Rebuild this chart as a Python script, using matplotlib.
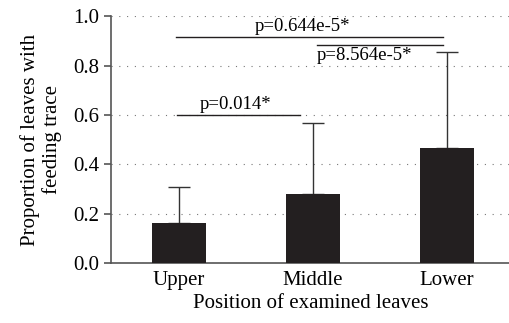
import numpy as np
import matplotlib.pyplot as plt

positions = ["Upper", "Middle", "Lower"]
proportion = [0.162, 0.279, 0.467]
err_upper = [0.147, 0.289, 0.386]

# significance brackets: (from, to, height, label, label x, label above?)
comparisons = [
    (-0.015, 0.90, 0.600, "p=0.014*", 0.157, True),
    (-0.02, 1.97, 0.916, "p=0.644e-5*", 0.567, True),
    (1.03, 1.97, 0.885, "p=8.564e-5*", 1.03, False),
]

plt.rcParams["font.family"] = ["Liberation Serif", "DejaVu Serif"]

fig = plt.figure(figsize=(5.1, 3.23), dpi=100)
ax = fig.add_axes([0.2176, 0.186, 0.7824, 0.764])

x = np.arange(len(positions))
ax.bar(x, proportion, width=0.40, color="#231f20", zorder=3)
ax.errorbar(x, proportion, yerr=[np.zeros(3), err_upper], fmt="none",
            ecolor="#333333", elinewidth=1.0, capsize=8, capthick=1.0, zorder=2)

for x0, x1, h, label, tx, above in comparisons:
    ax.plot([x0, x1], [h, h], color="#231f20", lw=1.0, zorder=4)
    if above:
        ax.text(tx, h + 0.006, label, ha="left", va="bottom", fontsize=13.5)
    else:
        ax.text(tx, h - 0.012, label, ha="left", va="top", fontsize=13.5)

ax.set_xlim(-0.507, 2.47)
ax.set_ylim(0, 1.0)
ax.set_yticks(np.arange(0, 1.01, 0.2))
ax.set_yticklabels([f"{v:.1f}" for v in np.arange(0, 1.01, 0.2)])
ax.set_xticks(x)
ax.set_xticklabels(positions)
ax.tick_params(axis="x", length=0, labelsize=15, pad=6)
ax.tick_params(axis="y", length=5, width=1.2, color="#555555", labelsize=15)
ax.yaxis.grid(True, linestyle=(0, (1, 6)), color="#777777", lw=0.8)
ax.set_axisbelow(True)
for s in ["top", "right"]:
    ax.spines[s].set_visible(False)
for s in ["left", "bottom"]:
    ax.spines[s].set_color("#555555")
    ax.spines[s].set_linewidth(1.2)

ax.set_xlabel("Position of examined leaves", fontsize=15, labelpad=3)
ax.set_ylabel("Proportion of leaves with\nfeeding trace", fontsize=15,
              labelpad=8, linespacing=1.15)

fig.savefig("out.png", dpi=100)
